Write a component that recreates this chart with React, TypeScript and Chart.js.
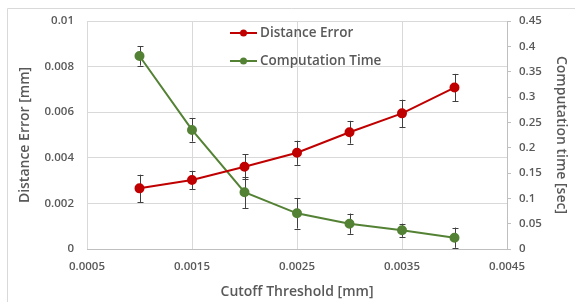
import React, { useEffect, useRef } from "react";
import { Chart, registerables } from "chart.js";
Chart.register(...registerables);

const thresholds = [0.001, 0.0015, 0.002, 0.0025, 0.003, 0.0035, 0.004];
const distanceError = [0.00266, 0.00303, 0.00361, 0.00422, 0.00512, 0.00595, 0.00708];
const distanceErrorErr = [0.0006, 0.0004, 0.00055, 0.00053, 0.0005, 0.0006, 0.0006];
const computationTime = [0.381, 0.235, 0.112, 0.0704, 0.05, 0.0369, 0.0223];
const computationTimeErr = [0.019, 0.023, 0.031, 0.03, 0.02, 0.013, 0.02];
const seriesNames = ["Distance Error", "Computation Time"];

const FONT = "'Open Sans'";
const TXT = "#595959";
const RED = "#c00000";
const GREEN = "#548235";

const errorBars = {
  id: "errorBars",
  beforeDatasetsDraw(chart: any) {
    const ctx = chart.ctx;
    ctx.save();
    ctx.strokeStyle = "#404040";
    ctx.lineWidth = 1;
    chart.data.datasets.forEach((ds: any, i: number) => {
      const meta = chart.getDatasetMeta(i);
      const ys = chart.scales[ds.yAxisID];
      const errs = ds.errors as number[];
      meta.data.forEach((pt: any, j: number) => {
        const v = ds.data[j].y;
        const x = Math.round(pt.x) + 0.5;
        const t = ys.getPixelForValue(v + errs[j]);
        const b = ys.getPixelForValue(v - errs[j]);
        ctx.beginPath();
        ctx.moveTo(x, t);
        ctx.lineTo(x, b);
        ctx.moveTo(x - 3, Math.round(t) + 0.5);
        ctx.lineTo(x + 3, Math.round(t) + 0.5);
        ctx.moveTo(x - 3, Math.round(b) + 0.5);
        ctx.lineTo(x + 3, Math.round(b) + 0.5);
        ctx.stroke();
      });
    });
    ctx.restore();
  },
};

const frameAndLegend = {
  id: "frameAndLegend",
  beforeDraw(chart: any) {
    const ctx = chart.ctx;
    ctx.save();
    ctx.strokeStyle = "#d9d9d9";
    ctx.lineWidth = 1;
    ctx.beginPath();
    ctx.moveTo(7.5, chart.height);
    ctx.lineTo(7.5, 8.5);
    ctx.lineTo(chart.width, 8.5);
    ctx.stroke();
    ctx.restore();
  },
  afterDraw(chart: any) {
    const ctx = chart.ctx;
    const area = chart.chartArea;
    const x0 = area.left + 143;
    const colors = [RED, GREEN];
    ctx.save();
    seriesNames.forEach((name, i) => {
      const y = area.top + 12 + i * 28;
      ctx.strokeStyle = colors[i];
      ctx.lineWidth = 2;
      ctx.beginPath();
      ctx.moveTo(x0, y);
      ctx.lineTo(x0 + 27, y);
      ctx.stroke();
      ctx.fillStyle = colors[i];
      ctx.beginPath();
      ctx.arc(x0 + 13.5, y, 3.5, 0, Math.PI * 2);
      ctx.fill();
      ctx.fillStyle = TXT;
      ctx.font = `600 13.5px ${FONT}`;
      ctx.textBaseline = "middle";
      ctx.textAlign = "left";
      ctx.fillText(name, x0 + 30, y);
    });
    ctx.restore();
  },
};

export default function App() {
  const ref = useRef<HTMLCanvasElement>(null);
  useEffect(() => {
    if (!ref.current) return;
    const tickFont = { family: FONT, size: 11.5, weight: "600" };
    const titleFont = { family: FONT, size: 14, weight: "600" };
    const chart = new Chart(ref.current, {
      type: "line",
      data: {
        datasets: [
          {
            label: seriesNames[0],
            data: thresholds.map((x, i) => ({ x, y: distanceError[i] })),
            errors: distanceErrorErr,
            yAxisID: "y",
            borderColor: RED,
            backgroundColor: RED,
            borderWidth: 2,
            pointRadius: 4,
            pointHoverRadius: 4,
            tension: 0,
          } as any,
          {
            label: seriesNames[1],
            data: thresholds.map((x, i) => ({ x, y: computationTime[i] })),
            errors: computationTimeErr,
            yAxisID: "y2",
            borderColor: GREEN,
            backgroundColor: GREEN,
            borderWidth: 2,
            pointRadius: 4,
            pointHoverRadius: 4,
            tension: 0,
          } as any,
        ],
      },
      options: {
        responsive: false,
        animation: false,
        layout: { padding: { top: 21, left: 0, right: 0, bottom: 0 } },
        plugins: { legend: { display: false }, tooltip: { enabled: false } },
        scales: {
          x: {
            type: "linear",
            position: "bottom",
            min: 0.0005,
            max: 0.0045,
            ticks: {
              stepSize: 0.001,
              callback: (v: any) => Number(v).toFixed(4),
              font: tickFont,
              color: TXT,
              padding: 11,
              maxRotation: 0,
            },
            grid: { color: "#d9d9d9", drawTicks: false },
            border: { color: "#bfbfbf" },
            title: {
              display: true,
              text: "Cutoff Threshold [mm]",
              font: titleFont,
              color: TXT,
              padding: { top: 0, bottom: 2 },
            },
            afterFit: (s: any) => {
              s.height = 53;
            },
          },
          y: {
            type: "linear",
            position: "left",
            min: 0,
            max: 0.01,
            ticks: {
              stepSize: 0.002,
              callback: (v: any) => String(Number(Number(v).toFixed(4))),
              font: tickFont,
              color: TXT,
              padding: 13,
            },
            grid: { color: "#d9d9d9", drawTicks: false },
            border: { display: false },
            title: {
              display: true,
              text: "Distance Error [mm]",
              font: titleFont,
              color: TXT,
              padding: { top: 17, bottom: 0 },
            },
            afterFit: (s: any) => {
              s.width = 87;
            },
          },
          y2: {
            type: "linear",
            position: "right",
            min: 0,
            max: 0.45,
            ticks: {
              stepSize: 0.05,
              callback: (v: any) => String(Number(Number(v).toFixed(3))),
              font: tickFont,
              color: TXT,
              padding: 8,
            },
            grid: { drawOnChartArea: false, color: "#bfbfbf", tickLength: 4 },
            border: { color: "#bfbfbf" },
            title: {
              display: true,
              text: "Computation time [sec]",
              font: titleFont,
              color: TXT,
              padding: { top: 6, bottom: 0 },
            },
            afterFit: (s: any) => {
              s.width = 68;
            },
          },
        },
      } as any,
      plugins: [errorBars, frameAndLegend],
    });
    return () => chart.destroy();
  }, []);
  return (
    <div style={{ position: "absolute", left: 0, top: 0, width: 575, height: 302, background: "#fff" }}>
      <canvas ref={ref} width={575} height={302} />
    </div>
  );
}
